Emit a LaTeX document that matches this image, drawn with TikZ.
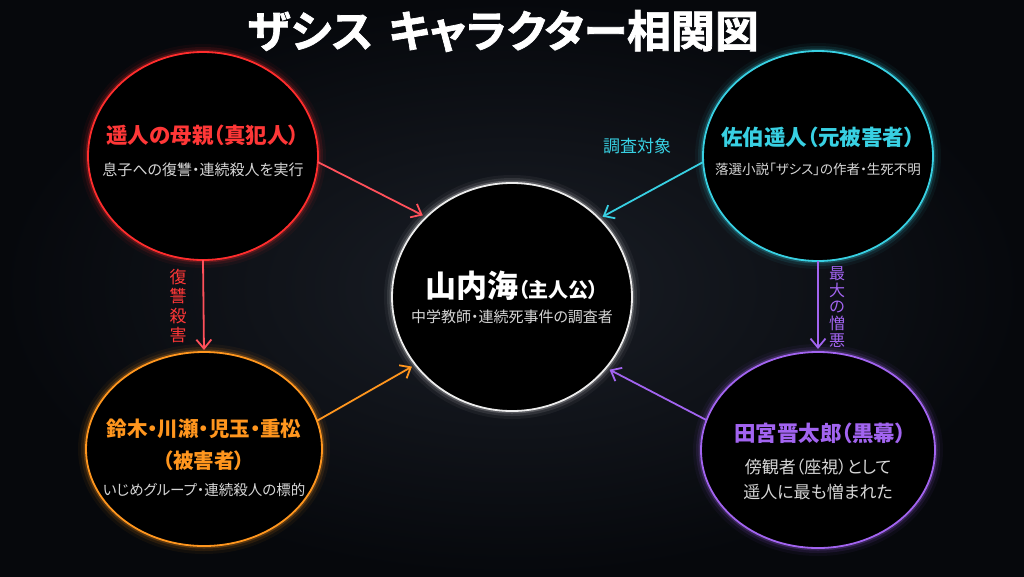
\documentclass[tikz,border=0pt]{standalone}
\usepackage{fontspec}
\setmainfont{Noto Sans CJK JP}[RawFeature=+palt]
\newfontfamily\heavyfont{Noto Sans CJK JP}[UprightFont={* Bold}, RawFeature={+palt;embolden=1.6}]
\usetikzlibrary{shapes.geometric,arrows.meta}
\definecolor{cred}{RGB}{255,45,45}
\definecolor{credt}{RGB}{255,55,55}
\definecolor{credar}{RGB}{255,80,90}
\definecolor{ccyan}{RGB}{56,208,226}
\definecolor{corange}{RGB}{255,150,30}
\definecolor{cpurple}{RGB}{162,100,240}
\definecolor{cwhite}{RGB}{236,236,236}
\definecolor{csub}{RGB}{214,214,214}
\definecolor{bgin}{RGB}{26,30,38}
\definecolor{bgout}{RGB}{6,8,12}
\begin{document}
\begin{tikzpicture}[x=1pt,y=-1pt,
  person/.style={ellipse, draw=#1, line width=1.8pt, fill=black, inner sep=0pt, outer sep=0pt,
    preaction={draw=#1, line width=16pt, draw opacity=.05},
    preaction={draw=#1, line width=10pt, draw opacity=.10},
    preaction={draw=#1, line width=5pt, draw opacity=.22}},
  rel/.style={draw=#1, line width=1.8pt, shorten >=4pt, -{Straight Barb[length=9pt,width=15pt]}},
  pname/.style={font=\bfseries\fontsize{21.5}{26}\selectfont, text=#1, inner sep=0pt},
  psub/.style={font=\fontsize{15}{19}\selectfont, text=csub, inner sep=0pt},
  vlab/.style={font=\fontsize{17}{19.5}\selectfont, text=#1, align=center, inner sep=0pt}]
\useasboundingbox (0,0) rectangle (1024,576);
\shade[inner color=bgin, outer color=bgout] (0,0) rectangle (1024,576);

% title
\node[font=\heavyfont\fontsize{44}{50}\selectfont, text=white, inner sep=0pt] (title) at (503,31) {ザシス\hspace{0.35em}キャラクター相関図};

% characters
\node[person=cred, minimum width=230pt, minimum height=208pt] (mother) at (203,156) {};
\node[person=ccyan, minimum width=230pt, minimum height=210pt] (haruto) at (818,156) {};
\node[person=cwhite, minimum width=240pt, minimum height=228pt] (umi) at (512,297) {};
\node[person=corange, minimum width=236pt, minimum height=194pt] (victims) at (204,449) {};
\node[person=cpurple, minimum width=234pt, minimum height=196pt] (tamiya) at (818,450) {};

% texts
\node[pname=credt] (motherN) at (203,135) {遥人の母親（真犯人）};
\node[psub] (motherS) at (203,170) {息子への復讐・連続殺人を実行};
\node[pname=ccyan] (harutoN) at (818,137) {佐伯遥人（元被害者）};
\node[psub, font=\fontsize{13.5}{17}\selectfont] (harutoS) at (818,169) {落選小説「ザシス」の作者・生死不明};
\node[text=white, inner sep=0pt, font=\bfseries] (umiN) at (512,286) {{\fontsize{31}{36}\selectfont 山内海}{\fontsize{20}{24}\selectfont（主人公）}};
\node[psub] (umiS) at (512,317) {中学教師・連続死事件の調査者};
\node[pname=corange, font=\bfseries\fontsize{20.5}{25}\selectfont] (victimsN) at (204,429) {鈴木・川瀬・児玉・重松};
\node[pname=corange, font=\bfseries\fontsize{20.5}{25}\selectfont] (victimsN2) at (204,461) {（被害者）};
\node[psub, font=\fontsize{14.5}{18}\selectfont] (victimsS) at (204,490) {いじめグループ・連続殺人の標的};
\node[pname=cpurple] (tamiyaN) at (820,433) {田宮晋太郎（黒幕）};
\node[psub, font=\fontsize{17}{21}\selectfont] (tamiyaS) at (818,467) {傍観者（座視）として};
\node[psub, font=\fontsize{17}{21}\selectfont] (tamiyaS2) at (818,492) {遥人に最も憎まれた};

% relations
\draw[rel=credar] (mother.-3) -- (umi.137);
\draw[rel=ccyan] (haruto.183) -- (umi.42);
\draw[rel=corange] (victims.14) -- (umi.215);
\draw[rel=cpurple] (tamiya.165) -- (umi.-37);
\draw[rel=credar, shorten >=2pt] (mother.south) -- (victims.north);
\draw[rel=cpurple, shorten >=3pt] (haruto.south) -- (tamiya.north);

% labels
\node[vlab=ccyan, font=\fontsize{17}{20}\selectfont] (l1) at (637,146) {調査対象};
\node[vlab=credt, font=\fontsize{17}{19.5}\selectfont] (l2) at (178,306) {復\\讐\\殺\\害};
\node[vlab=cpurple, font=\fontsize{16}{16.8}\selectfont] (l3) at (837,307) {最\\大\\の\\憎\\悪};
\end{tikzpicture}
\end{document}
